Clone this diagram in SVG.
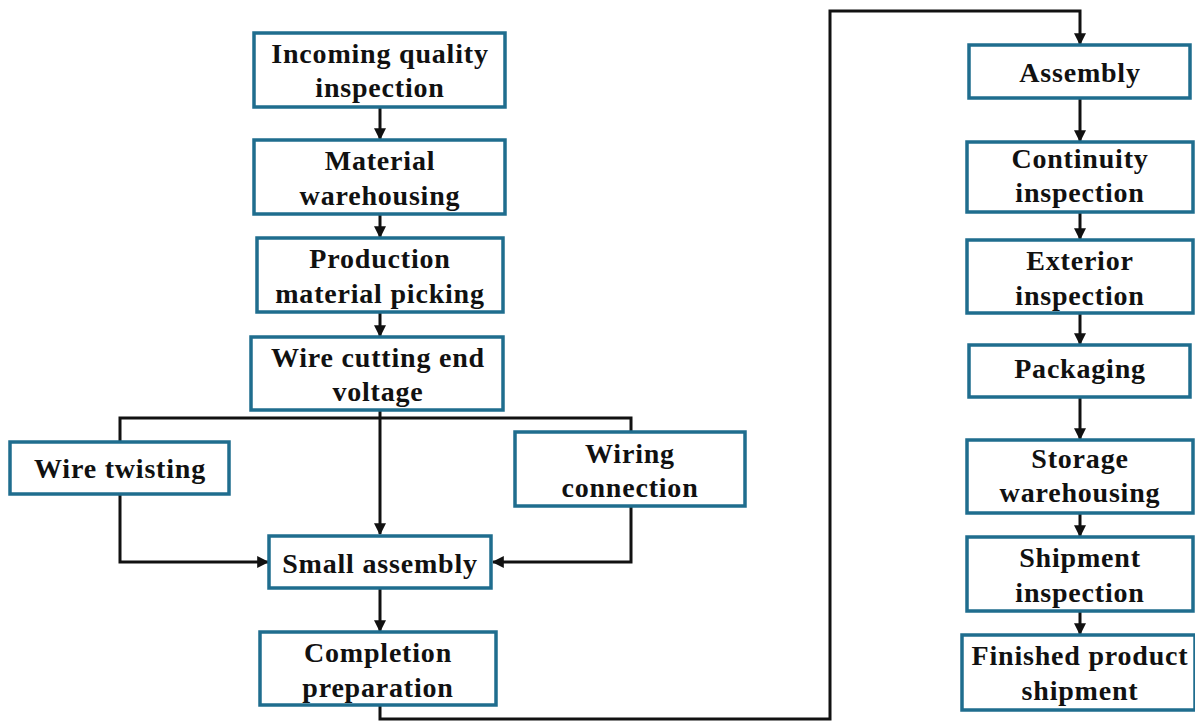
<svg xmlns="http://www.w3.org/2000/svg" width="1195" height="722" viewBox="0 0 1195 722">
<defs>
<style>
.box{fill:#fff;stroke:#1f6d8e;stroke-width:3.5}
.t{font-family:"Liberation Serif","Times New Roman",serif;font-weight:bold;font-size:28px;letter-spacing:0.8px;fill:#111;text-anchor:middle}
.c{fill:none;stroke:#111;stroke-width:3}
</style>
<marker id="a" viewBox="0 0 10 10" refX="9" refY="5" markerWidth="4" markerHeight="4" orient="auto" markerUnits="strokeWidth">
<path d="M0,0 L10,5 L0,10 z" fill="#111"/>
</marker>
</defs>
<rect width="1195" height="722" fill="#fff"/>
<g id="connectors">
<path class="c" d="M380,107 V139" marker-end="url(#a)"/>
<path class="c" d="M380,214 V237" marker-end="url(#a)"/>
<path class="c" d="M380,312 V336" marker-end="url(#a)"/>
<path class="c" d="M380,410 V534" marker-end="url(#a)"/>
<path class="c" d="M120,441 V418 H631 V432"/>
<path class="c" d="M120,494 V562 H268" marker-end="url(#a)"/>
<path class="c" d="M631,506 V562 H493" marker-end="url(#a)"/>
<path class="c" d="M380,588 V631" marker-end="url(#a)"/>
<path class="c" d="M380,705 V719 H830 V11 H1080 V44" marker-end="url(#a)"/>
<path class="c" d="M1080,98 V141" marker-end="url(#a)"/>
<path class="c" d="M1080,212 V239" marker-end="url(#a)"/>
<path class="c" d="M1080,313 V344" marker-end="url(#a)"/>
<path class="c" d="M1080,397 V439" marker-end="url(#a)"/>
<path class="c" d="M1080,513 V536" marker-end="url(#a)"/>
<path class="c" d="M1080,611 V634" marker-end="url(#a)"/>
</g>
<g id="n1"><rect class="box" x="254" y="33" width="251" height="74"/><text class="t" x="380" y="63">Incoming quality</text><text class="t" x="380" y="97">inspection</text></g>
<g id="n2"><rect class="box" x="254" y="140" width="251" height="74"/><text class="t" x="380" y="170">Material</text><text class="t" x="380" y="205">warehousing</text></g>
<g id="n3"><rect class="box" x="257" y="238" width="246" height="74"/><text class="t" x="380" y="268">Production</text><text class="t" x="380" y="303">material picking</text></g>
<g id="n4"><rect class="box" x="251" y="337" width="252" height="73"/><text class="t" x="378" y="367">Wire cutting end</text><text class="t" x="378" y="401">voltage</text></g>
<g id="n5"><rect class="box" x="10" y="442" width="219" height="52"/><text class="t" x="120" y="478">Wire twisting</text></g>
<g id="n6"><rect class="box" x="515" y="432" width="230" height="74"/><text class="t" x="630" y="463">Wiring</text><text class="t" x="630" y="497">connection</text></g>
<g id="n7"><rect class="box" x="269" y="536" width="222" height="52"/><text class="t" x="380" y="573">Small assembly</text></g>
<g id="n8"><rect class="box" x="260" y="632" width="236" height="73"/><text class="t" x="378" y="662">Completion</text><text class="t" x="378" y="697">preparation</text></g>
<g id="n9"><rect class="box" x="969" y="45" width="221" height="53"/><text class="t" x="1080" y="82">Assembly</text></g>
<g id="n10"><rect class="box" x="967" y="142" width="226" height="70"/><text class="t" x="1080" y="168">Continuity</text><text class="t" x="1080" y="202">inspection</text></g>
<g id="n11"><rect class="box" x="967" y="240" width="226" height="73"/><text class="t" x="1080" y="270">Exterior</text><text class="t" x="1080" y="305">inspection</text></g>
<g id="n12"><rect class="box" x="969" y="345" width="221" height="52"/><text class="t" x="1080" y="378">Packaging</text></g>
<g id="n13"><rect class="box" x="967" y="440" width="226" height="73"/><text class="t" x="1080" y="468">Storage</text><text class="t" x="1080" y="502">warehousing</text></g>
<g id="n14"><rect class="box" x="967" y="537" width="226" height="74"/><text class="t" x="1080" y="567">Shipment</text><text class="t" x="1080" y="602">inspection</text></g>
<g id="n15"><rect class="box" x="962" y="635" width="233" height="75"/><text class="t" x="1080" y="665">Finished product</text><text class="t" x="1080" y="700">shipment</text></g>
</svg>
